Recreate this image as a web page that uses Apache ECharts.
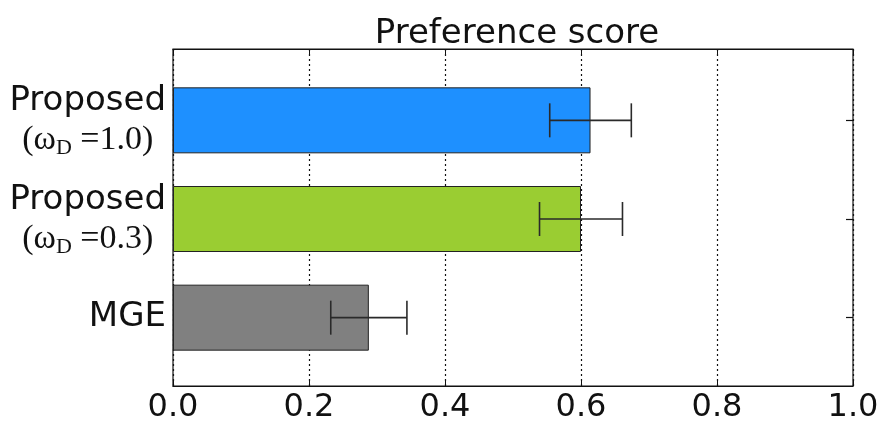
<!DOCTYPE html>
<html>
<head>
<meta charset="utf-8">
<script src="https://cdn.jsdelivr.net/npm/echarts@6/dist/echarts.min.js"></script>
<style>
html,body{margin:0;padding:0;background:#fff;}
#chart{width:884px;height:424px;}
</style>
</head>
<body>
<div id="chart"></div>
<script>
const categories = ['Proposed (ωD=1.0)', 'Proposed (ωD=0.3)', 'MGE'];
const labelMain = ['Proposed', 'Proposed', 'MGE'];
const labelWeight = ['1.0', '0.3', null];
const scores = [0.614, 0.600, 0.288];
const errors = [0.060, 0.061, 0.056];
const barColors = ['#1E90FF', '#9ACD32', '#808080'];
const title = 'Preference score';

const chart = echarts.init(document.getElementById('chart'), null, {renderer: 'canvas'});

function renderErr(params, api) {
  const c = api.value(0), v = api.value(1), e = api.value(2);
  const lo = api.coord([v - e, c]);
  const hi = api.coord([v + e, c]);
  const cap = 17;
  const st = {stroke: '#2a2a2a', lineWidth: 1.6};
  return {
    type: 'group',
    children: [
      {type: 'line', shape: {x1: lo[0], y1: lo[1], x2: hi[0], y2: hi[1]}, style: st},
      {type: 'line', shape: {x1: lo[0], y1: lo[1] - cap, x2: lo[0], y2: lo[1] + cap}, style: st},
      {type: 'line', shape: {x1: hi[0], y1: hi[1] - cap, x2: hi[0], y2: hi[1] + cap}, style: st}
    ]
  };
}

const option = {
  backgroundColor: '#fff',
  animation: false,
  title: {
    text: title, left: 512, top: 12, textAlign: 'center',
    textStyle: {fontFamily: 'DejaVu Sans', fontSize: 34, fontWeight: 'normal', color: '#111'}
  },
  grid: [
    {left: 173, right: 31, top: 49, bottom: 34, show: true, borderColor: '#111', borderWidth: 1.2, backgroundColor: 'transparent'},
    {left: 173, right: 31, top: 71, bottom: 57, show: false}
  ],
  xAxis: [{
    gridIndex: 0, type: 'value', min: 0, max: 1, interval: 0.2, position: 'bottom',
    axisLine: {show: true, lineStyle: {color: '#111', width: 1.2}},
    axisTick: {show: true, inside: true, length: 6, lineStyle: {color: '#111'}},
    axisLabel: {fontFamily: 'DejaVu Sans', fontSize: 32, color: '#111', margin: 6,
      formatter: v => v.toFixed(1)},
    splitLine: {show: true, lineStyle: {color: '#111', type: [2, 3], width: 1.2}}
  }, {
    gridIndex: 0, type: 'value', min: 0, max: 1, interval: 0.2, position: 'top',
    axisLine: {show: true, lineStyle: {color: '#111', width: 1.2}},
    axisTick: {show: true, inside: true, length: 6, lineStyle: {color: '#111'}},
    axisLabel: {show: false}, splitLine: {show: false}
  }, {
    gridIndex: 1, type: 'value', min: 0, max: 1, show: false
  }],
  yAxis: [{
    gridIndex: 0, type: 'value', min: 0, max: 1, show: false
  }, {
    gridIndex: 1, type: 'category', data: categories, inverse: true, position: 'left',
    axisLine: {show: false}, axisTick: {show: false}, splitLine: {show: false},
    axisLabel: {
      margin: 7,
      formatter: function (val, i) {
        if (labelWeight[i] === null) return '{p|' + labelMain[i] + '}';
        return '{p|' + labelMain[i] + '}\n{m|(ω}{s|D}{m| =' + labelWeight[i] + ')}';
      },
      rich: {
        p: {fontFamily: 'DejaVu Sans', fontSize: 34, color: '#111', lineHeight: 40, align: 'center'},
        m: {fontFamily: 'Liberation Serif', fontSize: 34, color: '#111', lineHeight: 38, align: 'center'},
        s: {fontFamily: 'Liberation Serif', fontSize: 22, color: '#111', lineHeight: 20, align: 'center', verticalAlign: 'bottom'}
      }
    }
  }, {
    gridIndex: 1, type: 'category', data: categories, inverse: true, position: 'right',
    axisLine: {show: false},
    axisTick: {show: true, inside: true, alignWithLabel: true, length: 7, lineStyle: {color: '#111', width: 1.2}},
    axisLabel: {show: false}, splitLine: {show: false}
  }],
  series: [{
    type: 'bar', xAxisIndex: 2, yAxisIndex: 1, data: scores.map((s, i) => ({value: s, itemStyle: {color: barColors[i]}})),
    barWidth: 66, itemStyle: {borderColor: '#222', borderWidth: 1}, z: 3
  }, {
    type: 'custom', renderItem: renderErr, xAxisIndex: 2, yAxisIndex: 1,
    data: categories.map((c, i) => [i, scores[i], errors[i]]),
    encode: {x: 1, y: 0}, z: 4
  }]
};
chart.setOption(option);
</script>
</body>
</html>
